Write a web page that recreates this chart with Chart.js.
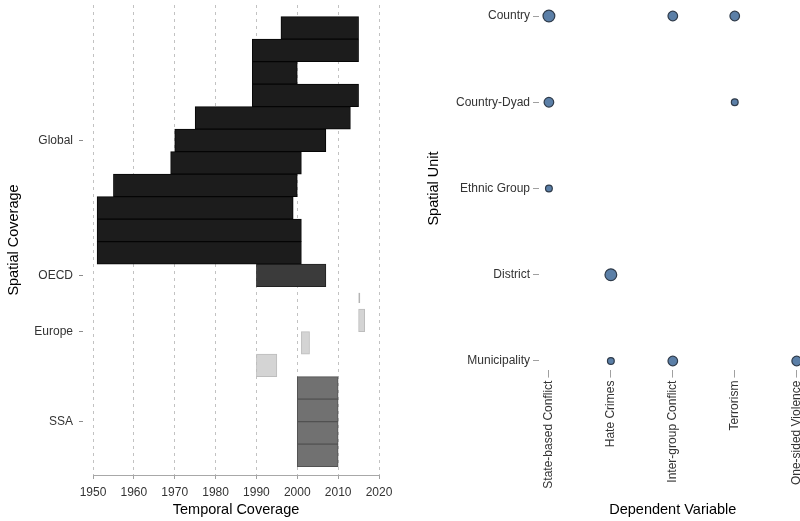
<!DOCTYPE html>
<html>
<head>
<meta charset="utf-8">
<script src="https://cdn.jsdelivr.net/npm/chart.js@4.4.0/dist/chart.umd.min.js"></script>
<style>
  html, body { margin: 0; padding: 0; background: #fff; overflow: hidden; width: 800px; height: 521px; }
  #coverage { position: absolute; left: 0; top: 0; }
  #units { position: absolute; left: 420px; top: 0; }
</style>
</head>
<body>
<canvas id="coverage" width="400" height="521"></canvas>
<canvas id="units" width="400" height="521"></canvas>
<script>
// ---- Temporal / spatial coverage: one row per dataset, listed top to bottom ----
const regions = ['Global', 'OECD', 'Europe', 'SSA'];
const rowRegion = [
  'Global', 'Global', 'Global', 'Global', 'Global', 'Global', 'Global', 'Global', 'Global', 'Global', 'Global',
  'OECD',
  'Europe', 'Europe', 'Europe', 'Europe',
  'SSA', 'SSA', 'SSA', 'SSA'
];
const startYear = [1996, 1989, 1989, 1989, 1975, 1970, 1969, 1955, 1951, 1951, 1951,
                   1990,
                   2015, 2015, 2001, 1990,
                   2000, 2000, 2000, 2000];
const endYear   = [2015, 2015, 2000, 2015, 2013, 2007, 2001, 2000, 1999, 2001, 2001,
                   2007,
                   2015, 2016.5, 2003, 1995,
                   2010, 2010, 2010, 2010];
const yearTicks = [1950, 1960, 1970, 1980, 1990, 2000, 2010, 2020];

// ---- Spatial unit by dependent variable: number of datasets ----
const dependentVariables = ['State-based Conflict', 'Hate Crimes', 'Inter-group Conflict', 'Terrorism', 'One-sided Violence'];
const spatialUnits = ['Country', 'Country-Dyad', 'Ethnic Group', 'District', 'Municipality'];
const countCountry      = [3, 0, 2, 2, 0];
const countCountryDyad  = [2, 0, 0, 1, 0];
const countEthnicGroup  = [1, 0, 0, 0, 0];
const countDistrict     = [0, 3, 0, 0, 0];
const countMunicipality = [0, 1, 2, 0, 2];

const FONT = "'Liberation Sans', Arial, Helvetica, sans-serif";
const tickFont = { family: FONT, size: 12 };
const titleFont = { family: FONT, size: 14.5 };
const tickColor = '#333333';

// Fixed axis box size; label overhang is not reserved so the plot area follows layout.padding
const fixSize = (prop, size) => s => {
  s[prop] = size;
  s.paddingTop = 0; s.paddingBottom = 0; s.paddingLeft = 0; s.paddingRight = 0;
};

// Colours for each coverage region
const regionFill   = { Global: '#1c1c1c', OECD: '#3b3b3b', Europe: '#d4d4d4', SSA: '#717171' };
const regionBorder = { Global: '#050505', OECD: '#222222', Europe: '#bdbdbd', SSA: '#525252' };

// Floating bars, one dataset per region; single-year spans get their own thin dataset
const coverageDatasets = [];
regions.forEach(region => {
  const spans = [], points = [];
  rowRegion.forEach((r, i) => {
    if (r !== region) return;
    const item = { x: [startYear[i], endYear[i]], y: i };
    if (startYear[i] === endYear[i]) points.push(item); else spans.push(item);
  });
  coverageDatasets.push({
    label: region, data: spans,
    backgroundColor: regionFill[region], borderColor: regionBorder[region],
    borderWidth: 1, borderSkipped: false
  });
  if (points.length) {
    coverageDatasets.push({
      label: region + ' (single year)', data: points,
      backgroundColor: '#b4b4b4', borderWidth: 0,
      minBarLength: 1.5, barPercentage: 0.45
    });
  }
});

// Region labels sit at the middle of their block of rows
const regionTicks = regions.map(region => {
  const rows = rowRegion.map((r, i) => r === region ? i : -1).filter(i => i >= 0);
  return { label: region, value: (rows[0] + rows[rows.length - 1]) / 2 };
});

new Chart(document.getElementById('coverage'), {
  type: 'bar',
  data: { datasets: coverageDatasets },
  options: {
    indexAxis: 'y',
    responsive: false,
    animation: false,
    events: [],
    grouped: false,
    categoryPercentage: 1,
    barPercentage: 1,
    layout: { padding: { top: 5, right: 21, left: 0, bottom: 0 } },
    plugins: { legend: { display: false }, tooltip: { enabled: false } },
    scales: {
      x: {
        type: 'linear', min: 1950, max: 2020, offset: false,
        afterBuildTicks: s => { s.ticks = yearTicks.map(v => ({ value: v })); },
        ticks: { callback: (v, i) => String(yearTicks[i]), font: tickFont, color: tickColor, padding: 6, maxRotation: 0, autoSkip: false },
        grid: { color: '#c2c2c2', tickLength: 4, tickColor: '#a0a0a0', tickBorderDash: [] },
        border: { display: true, color: '#a8a8a8', width: 1, dash: [3, 4] },
        title: { display: true, text: 'Temporal Coverage', font: titleFont, color: '#000', padding: { top: 0, bottom: 2 } },
        afterFit: fixSize('height', 46)
      },
      y: {
        type: 'linear', reverse: true, min: -1.02, max: 19.87, offset: false,
        afterBuildTicks: s => { s.ticks = regionTicks.map(t => ({ value: t.value })); },
        ticks: { callback: (v, i) => regionTicks[i].label, font: tickFont, color: tickColor, padding: 6, autoSkip: false },
        grid: { offset: false, drawOnChartArea: false, tickLength: 14, tickColor: '#8c8c8c', tickBorderDash: [4, 10] },
        border: { display: false },
        title: { display: true, text: 'Spatial Coverage', font: titleFont, color: '#000', padding: { top: 5, bottom: 0 } },
        afterFit: fixSize('width', 93)
      }
    }
  }
});

// Bubble area grows with the number of datasets in each cell
const bubbleScale = 3.4;
const countsByUnit = [countCountry, countCountryDyad, countEthnicGroup, countDistrict, countMunicipality];
const bubblePoints = [];
countsByUnit.forEach((row, yi) => row.forEach((n, xi) => {
  if (n > 0) bubblePoints.push({ x: xi, y: yi, r: bubbleScale * Math.sqrt(n) });
}));

new Chart(document.getElementById('units'), {
  type: 'bubble',
  data: {
    datasets: [{
      data: bubblePoints,
      backgroundColor: '#5b7fa7',
      borderColor: '#2f3b4a',
      borderWidth: 1.2
    }]
  },
  options: {
    responsive: false,
    animation: false,
    events: [],
    clip: false,
    layout: { padding: { top: 7.4, right: 13.4, left: 0, bottom: 0 } },
    plugins: { legend: { display: false }, tooltip: { enabled: false } },
    scales: {
      x: {
        type: 'linear', min: -0.16, max: 4.16,
        afterBuildTicks: s => { s.ticks = dependentVariables.map((_, i) => ({ value: i })); },
        ticks: { callback: (v, i) => dependentVariables[i], font: tickFont, color: tickColor, padding: 3,
                 minRotation: 90, maxRotation: 90, autoSkip: false },
        grid: { drawOnChartArea: false, tickLength: 8, tickColor: '#a0a0a0' },
        border: { display: false },
        title: { display: true, text: 'Dependent Variable', font: titleFont, color: '#000', padding: { top: 0, bottom: 2 } },
        afterFit: fixSize('height', 151.4)
      },
      y: {
        type: 'linear', reverse: true, min: -0.1, max: 4.1,
        afterBuildTicks: s => { s.ticks = spatialUnits.map((_, i) => ({ value: i })); },
        ticks: { callback: (v, i) => spatialUnits[i], font: tickFont, color: tickColor, padding: 3, autoSkip: false },
        grid: { drawOnChartArea: false, tickLength: 6, tickColor: '#a0a0a0' },
        border: { display: false },
        title: { display: true, text: 'Spatial Unit', font: titleFont, color: '#000', padding: { top: 5, bottom: 0 } },
        afterFit: fixSize('width', 119)
      }
    }
  }
});
</script>
</body>
</html>
